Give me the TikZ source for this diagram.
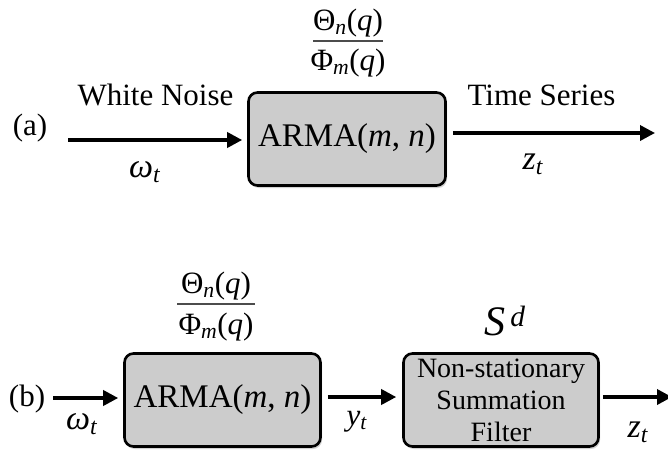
\documentclass[tikz,border=0pt]{standalone}
\usepackage{fontspec}
\setmainfont{Liberation Serif}
\usetikzlibrary{arrows.meta,shadows}
\definecolor{boxgray}{RGB}{204,204,204}
\newcommand{\sub}[1]{\textsubscript{\textit{#1}}}
\begin{document}
\begin{tikzpicture}[x=1pt,y=-1pt,
  blk/.style={draw=black, line width=2.6pt, rounded corners=9pt, fill=boxgray,
    inner sep=0pt, drop shadow={shadow xshift=1.5pt,shadow yshift=-2.5pt,opacity=0.35}},
  lbl/.style={font=\fontsize{31}{36}\selectfont, inner sep=0pt},
  glbl/.style={font=\fontsize{34}{40}\selectfont, inner sep=0pt},
  btxt/.style={font=\fontsize{33}{40}\selectfont},
  sig/.style={line width=3.5pt, -{Triangle[length=15pt,width=15pt]}},
  fbar/.style={line width=1.8pt, draw=black!70},
]
\clip (0,0) rectangle (668,452);
\fill[white] (0,0) rectangle (668,452);

% ---------------- (a) ----------------
\node[blk, btxt, minimum width=197pt, minimum height=93pt] (boxa) at (347,139) {ARMA(\textit{m}, \textit{n})};
\node[lbl] (la) at (30,128) {(a)};
\node[lbl, anchor=base] (wn) at (155.5,105) {White Noise};
\node[lbl, anchor=base] (ts) at (541.5,105) {Time Series};
\node[glbl] (wa) at (145,172) {\textit{ω}\sub{t}};
\node[glbl] (za) at (533,164) {\textit{z}\sub{t}};
\node[lbl] (numa) at (348,23) {Θ\sub{n}(\textit{q})};
\node[lbl] (dena) at (348,63) {Φ\sub{m}(\textit{q})};
\coordinate (bla) at (313,41);
\coordinate (bra) at (383,41);
\draw[fbar] (bla) -- (bra);
\coordinate (ain) at (68,140);
\coordinate (aout) at (655,133);
\draw[sig, shorten >=5pt] (ain) -- (ain -| boxa.west);
\draw[sig, shorten <=6pt] (aout -| boxa.east) -- (aout);

% ---------------- (b) ----------------
\node[blk, btxt, minimum width=196pt, minimum height=93pt] (boxb) at (222.5,400) {ARMA(\textit{m}, \textit{n})};
\node[blk, minimum width=195pt, minimum height=93pt, align=center,
      font=\fontsize{28}{32}\selectfont] (boxs) at (501,400) {Non-stationary\\Summation\\Filter};
\node[lbl] (lb) at (27,399) {(b)};
\node[glbl] (wb) at (82,424) {\textit{ω}\sub{t}};
\node[lbl] (yb) at (357,422) {\textit{y}\sub{t}};
\node[glbl] (zb) at (638,432) {\textit{z}\sub{t}};
\node[inner sep=0pt, font=\fontsize{42}{48}\selectfont] (sd) at (505,321) {\textit{S}\textsuperscript{\,\textit{d}}};
\node[lbl] (numb) at (216,286) {Θ\sub{n}(\textit{q})};
\node[lbl] (denb) at (216,327) {Φ\sub{m}(\textit{q})};
\coordinate (blb) at (177,304);
\coordinate (brb) at (255,304);
\draw[fbar] (blb) -- (brb);
\coordinate (bin) at (53,398);
\coordinate (bout) at (672,397);
\draw[sig, shorten >=5pt] (bin) -- (bin -| boxb.west);
\draw[sig, shorten <=6pt, shorten >=6pt] (boxb.east |- 0,397) -- (boxs.west |- 0,397);
\draw[sig, shorten <=3pt] (bout -| boxs.east) -- (bout);
\end{tikzpicture}
\end{document}
